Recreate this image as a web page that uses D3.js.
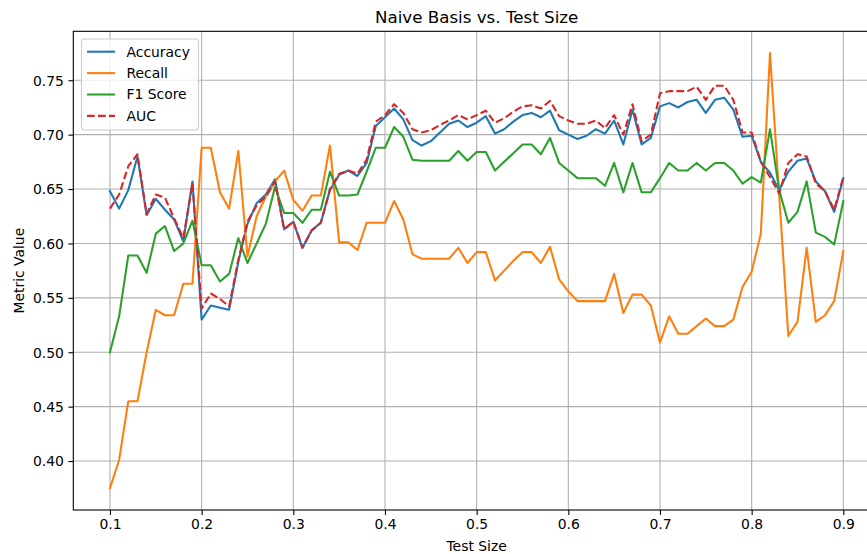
<!DOCTYPE html>
<meta charset="utf-8">
<head>
  <title>Naive Basis vs. Test Size</title>
</head>
<style>
body { margin: 0; background: #fff; }
text { font-family: "DejaVu Sans", sans-serif; fill: #000; }
.grid line { stroke: #b0b0b0; stroke-width: 1.1px; }
.tick line { stroke: #000; stroke-width: 1.1px; }
.tick text { font-size: 13.9px; }
</style>
<body>
<script src="https://d3js.org/d3.v7.min.js"></script>
<script>

// test sizes 0.10 ... 0.90
var testSize = d3.range(10, 91).map(function(d) { return d / 100; });

var accuracy = [
  0.648, 0.632, 0.649, 0.680, 0.626, 0.641, 0.631, 0.622, 0.602, 0.657,
  0.530, 0.543, 0.541, 0.539, 0.583, 0.618, 0.637, 0.645, 0.659, 0.613,
  0.620, 0.596, 0.612, 0.619, 0.649, 0.663, 0.667, 0.662, 0.674, 0.708,
  0.716, 0.724, 0.714, 0.695, 0.690, 0.694, 0.702, 0.710, 0.713, 0.707,
  0.711, 0.717, 0.701, 0.705, 0.712, 0.718, 0.720, 0.716, 0.722, 0.704,
  0.700, 0.696, 0.699, 0.705, 0.701, 0.713, 0.691, 0.723, 0.691, 0.697,
  0.726, 0.729, 0.725, 0.730, 0.732, 0.720, 0.732, 0.734, 0.723, 0.698,
  0.699, 0.675, 0.665, 0.649, 0.666, 0.676, 0.678, 0.657, 0.648, 0.629,
  0.660];

var recall = [
  0.375, 0.401, 0.455, 0.455, 0.500, 0.539, 0.534, 0.534, 0.563, 0.563,
  0.688, 0.688, 0.647, 0.632, 0.685, 0.588, 0.625, 0.643, 0.657, 0.667,
  0.640, 0.630, 0.644, 0.644, 0.690, 0.601, 0.601, 0.594, 0.619, 0.619,
  0.619, 0.639, 0.622, 0.590, 0.586, 0.586, 0.586, 0.586, 0.596, 0.582,
  0.592, 0.592, 0.566, 0.575, 0.584, 0.592, 0.592, 0.582, 0.597, 0.567,
  0.556, 0.547, 0.547, 0.547, 0.547, 0.572, 0.536, 0.553, 0.553, 0.543,
  0.509, 0.533, 0.517, 0.517, 0.524, 0.531, 0.524, 0.524, 0.530, 0.560,
  0.574, 0.609, 0.775, 0.645, 0.515, 0.528, 0.596, 0.528, 0.534, 0.547,
  0.593];

var f1 = [
  0.500, 0.533, 0.589, 0.589, 0.573, 0.609, 0.616, 0.593, 0.600, 0.621,
  0.580, 0.580, 0.565, 0.572, 0.605, 0.582, 0.600, 0.618, 0.652, 0.628,
  0.628, 0.619, 0.631, 0.631, 0.666, 0.644, 0.644, 0.645, 0.666, 0.688,
  0.688, 0.707, 0.698, 0.677, 0.676, 0.676, 0.676, 0.676, 0.685, 0.676,
  0.684, 0.684, 0.667, 0.675, 0.683, 0.691, 0.691, 0.682, 0.697, 0.674,
  0.667, 0.660, 0.660, 0.660, 0.653, 0.674, 0.647, 0.674, 0.647, 0.647,
  0.660, 0.674, 0.667, 0.667, 0.674, 0.667, 0.674, 0.674, 0.667, 0.655,
  0.661, 0.656, 0.705, 0.649, 0.619, 0.629, 0.657, 0.610, 0.606, 0.599,
  0.639];

var auc = [
  0.632, 0.645, 0.671, 0.682, 0.627, 0.645, 0.642, 0.623, 0.605, 0.655,
  0.540, 0.554, 0.549, 0.542, 0.585, 0.620, 0.635, 0.643, 0.657, 0.613,
  0.620, 0.596, 0.612, 0.619, 0.650, 0.664, 0.667, 0.664, 0.677, 0.712,
  0.718, 0.728, 0.720, 0.705, 0.702, 0.704, 0.709, 0.713, 0.718, 0.714,
  0.718, 0.722, 0.711, 0.715, 0.721, 0.726, 0.727, 0.724, 0.731, 0.717,
  0.713, 0.710, 0.710, 0.713, 0.706, 0.718, 0.700, 0.728, 0.694, 0.700,
  0.738, 0.740, 0.740, 0.740, 0.744, 0.732, 0.745, 0.745, 0.732, 0.702,
  0.702, 0.675, 0.661, 0.646, 0.674, 0.682, 0.680, 0.655, 0.648, 0.631,
  0.661];

var xTicks = [0.1, 0.2, 0.3, 0.4, 0.5, 0.6, 0.7, 0.8, 0.9];
var yTicks = [0.40, 0.45, 0.50, 0.55, 0.60, 0.65, 0.70, 0.75];

var seriesNames = ["Accuracy", "Recall", "F1 Score", "AUC"];
var seriesValues = [accuracy, recall, f1, auc];
var seriesColors = ["#1f77b4", "#ff7f0e", "#2ca02c", "#d62728"];

var width = 867,
    height = 554;
// axes box (right side runs past the picture edge like the original)
var plotLeft = 73.3, plotRight = 880, plotTop = 31.3, plotBottom = 510;

var svg = d3.select("body").append("svg")
    .attr("width", width)
    .attr("height", height);

svg.append("rect").attr("width", width).attr("height", height).attr("fill", "#fff");

var x = d3.scaleLinear().domain([0.06, 0.94]).range([plotLeft, plotRight]);
var y = d3.scaleLinear().domain([0.355, 0.795]).range([plotBottom, plotTop]);

// grid
var grid = svg.append("g").attr("class", "grid");
grid.selectAll(".gx").data(xTicks).enter().append("line")
    .attr("x1", function(d) { return x(d); })
    .attr("x2", function(d) { return x(d); })
    .attr("y1", plotTop).attr("y2", plotBottom);
grid.selectAll(".gy").data(yTicks).enter().append("line")
    .attr("x1", plotLeft).attr("x2", plotRight)
    .attr("y1", function(d) { return y(d); })
    .attr("y2", function(d) { return y(d); });

// lines
var line = d3.line()
    .x(function(d, i) { return x(testSize[i]); })
    .y(function(d) { return y(d); });

seriesValues.forEach(function(vals, k) {
  svg.append("path")
    .datum(vals)
    .attr("d", line)
    .attr("fill", "none")
    .attr("stroke", seriesColors[k])
    .attr("stroke-width", 2.08)
    .attr("stroke-linejoin", "round")
    .attr("stroke-linecap", k == 3 ? "butt" : "square")
    .attr("stroke-dasharray", k == 3 ? "7.7,3.3" : null);
});

// axes
var xAxis = d3.axisBottom(x).tickValues(xTicks).tickFormat(d3.format(".1f"))
    .tickSizeInner(4.9).tickSizeOuter(0).tickPadding(4.5);
var gx = svg.append("g").attr("transform", "translate(0," + plotBottom + ")").call(xAxis);
gx.select(".domain").remove();
gx.selectAll(".tick text").attr("font-family", null).attr("font-size", null);

var yAxis = d3.axisLeft(y).tickValues(yTicks).tickFormat(d3.format(".2f"))
    .tickSizeInner(4.9).tickSizeOuter(0).tickPadding(4.5);
var gy = svg.append("g").attr("transform", "translate(" + plotLeft + ",0)").call(yAxis);
gy.select(".domain").remove();
gy.selectAll(".tick text").attr("dy", "0.35em");
gx.attr("font-family", null).attr("font-size", null);
gy.attr("font-family", null).attr("font-size", null);

// spines
svg.append("rect")
    .attr("x", plotLeft).attr("y", plotTop)
    .attr("width", plotRight - plotLeft).attr("height", plotBottom - plotTop)
    .attr("fill", "none").attr("stroke", "#000").attr("stroke-width", 1.1);

// title and labels
svg.append("text")
    .attr("x", (plotLeft + plotRight) / 2).attr("y", 23)
    .attr("text-anchor", "middle")
    .style("font-size", "16.7px")
    .text("Naive Basis vs. Test Size");

svg.append("text")
    .attr("x", (plotLeft + plotRight) / 2).attr("y", 551)
    .attr("text-anchor", "middle")
    .style("font-size", "13.9px")
    .text("Test Size");

svg.append("text")
    .attr("transform", "translate(23.5," + ((plotTop + plotBottom) / 2) + ") rotate(-90)")
    .attr("text-anchor", "middle")
    .style("font-size", "13.9px")
    .text("Metric Value");

// legend
var legend = svg.append("g").attr("transform", "translate(81.5,39)");
legend.append("rect")
    .attr("width", 117).attr("height", 91)
    .attr("rx", 3).attr("ry", 3)
    .attr("fill", "#fff").attr("fill-opacity", 0.8)
    .attr("stroke", "#cccccc").attr("stroke-width", 1.1);

var item = legend.selectAll(".item").data(seriesNames).enter().append("g")
    .attr("transform", function(d, i) { return "translate(0," + (12.7 + i * 21.4) + ")"; });
item.append("line")
    .attr("x1", 5.5).attr("x2", 33.5)
    .attr("stroke", function(d, i) { return seriesColors[i]; })
    .attr("stroke-width", 2.08)
    .attr("stroke-dasharray", function(d, i) { return i == 3 ? "7.7,3.3" : null; });
item.append("text")
    .attr("x", 45).attr("dy", "0.35em")
    .style("font-size", "13.9px")
    .text(function(d) { return d; });

</script>
</body>
